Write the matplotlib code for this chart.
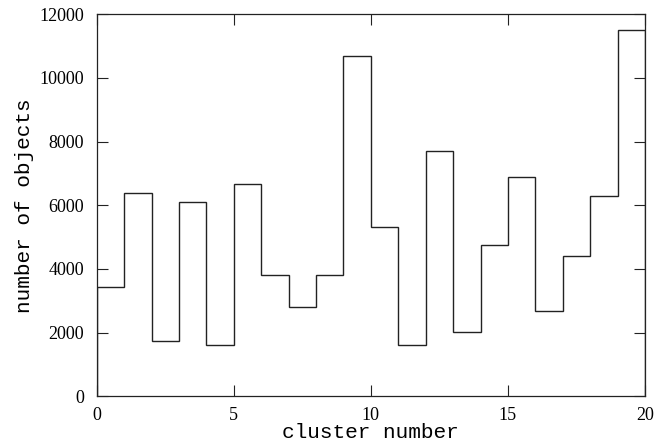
import numpy as np
import matplotlib.pyplot as plt

# cluster sizes, one value per cluster bin
edges = np.arange(0, 21)
counts = [3420, 6400, 1730, 6110, 1600, 6680, 3800, 2800, 3800, 10700,
          5310, 1610, 7720, 2020, 4740, 6880, 2680, 4420, 6300, 11510]
xticks = [0, 5, 10, 15, 20]
yticks = [0, 2000, 4000, 6000, 8000, 10000, 12000]

fig = plt.figure(figsize=(6.56, 4.45), dpi=100)
ax = fig.add_axes([96.7 / 656, 1 - 396.3 / 445, (645 - 96.7) / 656, (396.3 - 14.3) / 445])

ax.stairs(counts, edges, baseline=0, color='#222222', linewidth=1.0)

ax.set_xlim(0, 20)
ax.set_ylim(0, 12000)
ax.set_xticks(xticks)
ax.set_yticks(yticks)
ax.tick_params(direction='in', length=8, width=0.8, top=True, right=True,
               labelsize=13, color='#222222')
ax.tick_params(axis='x', pad=8)
ax.tick_params(axis='y', pad=9)
for lab in ax.get_xticklabels() + ax.get_yticklabels():
    lab.set_family('Liberation Serif')
for s in ax.spines.values():
    s.set_linewidth(0.9)
    s.set_color('#222222')

ax.set_xlabel('cluster number', family='Liberation Mono', fontsize=15.2, labelpad=-1)
ax.set_ylabel('number of objects', family='Liberation Mono', fontsize=15.2, labelpad=4)

fig.savefig('out.png', dpi=100)
